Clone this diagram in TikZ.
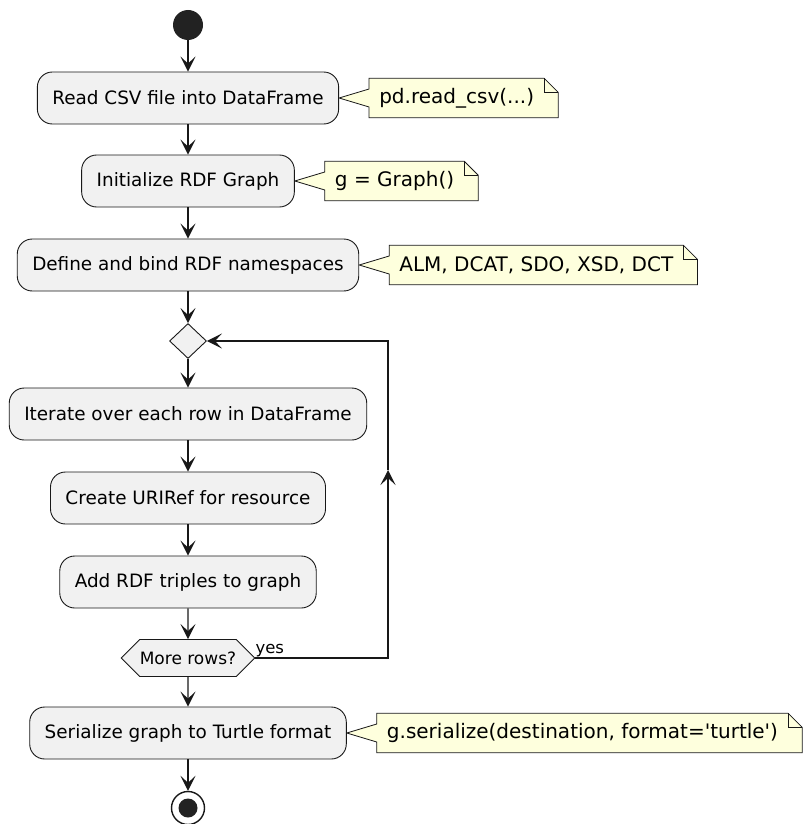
\documentclass[tikz,border=0pt]{standalone}
\usepackage{fontspec}
\setmainfont{DejaVu Sans}[Ligatures=TeXOff]
\usetikzlibrary{arrows.meta,positioning,shapes.geometric,shapes.symbols,backgrounds}

\definecolor{actfill}{HTML}{F1F1F1}
\definecolor{notefill}{HTML}{FEFFDD}
\definecolor{umlline}{HTML}{181818}
\definecolor{startfill}{HTML}{222222}

% note outline with dog ear and wedge pointing at its action
\newcommand\memoshape[2]{%
  \begin{pgfonlayer}{background}
    \filldraw[fill=notefill, draw=umlline, line width=0.8pt]
      (#1.north west) -- (#1.north east) -- ([xshift=14pt,yshift=-14pt]#1.north east)
      -- ([xshift=14pt]#1.south east) -- (#1.south west) -- ([yshift=-9pt]#1.west)
      -- (#2.east |- #1.west) -- ([yshift=9pt]#1.west) -- cycle;
    \draw[umlline, line width=0.8pt] (#1.north east) -- ([yshift=-14pt]#1.north east)
      -- ([xshift=14pt,yshift=-14pt]#1.north east);
  \end{pgfonlayer}}

\begin{document}
\begin{tikzpicture}[x=1pt, y=-1pt,
    every node/.style={font=\fontsize{18.4}{22}\selectfont},
    action/.style={draw=umlline, line width=0.9pt, fill=actfill,
      rounded corners=15pt, minimum height=52pt, inner xsep=15pt},
    memo/.style={minimum height=39pt, inner xsep=10pt, inner ysep=0pt,
      font=\fontsize{20}{24}\selectfont},
    flow/.style={-{Stealth[length=15pt,width=15pt,inset=7pt]},
      line width=1.4pt, draw=umlline},
    node distance=30pt]
  \useasboundingbox (0,0) rectangle (803,824);

  \node[circle, fill=startfill, minimum size=30pt, inner sep=0pt] (start) at (188,25) {};
  \node[action] (read) at (188,98) {Read CSV file into DataFrame};
  \node[action] (init) at (188,181) {Initialize RDF Graph};
  \node[action] (bind) at (188,265) {Define and bind RDF namespaces};
  \node[diamond, draw=umlline, line width=0.9pt, fill=actfill, minimum width=37pt,
    minimum height=35pt, inner sep=0pt] (merge) at (188,341) {};
  \node[action] (iter) at (188,414) {Iterate over each row in DataFrame};
  \node[action] (uri) at (188,498) {Create URIRef for resource};
  \node[action] (triples) at (188,582) {Add RDF triples to graph};
  \node[signal, signal to=west and east, signal pointer angle=90, draw=umlline,
    line width=0.9pt, fill=actfill, minimum height=37pt, inner xsep=0pt,
    font=\fontsize{17}{20}\selectfont] (more) at (188,658) {More rows?};
  \node[action] (serial) at (188,733) {Serialize graph to Turtle format};
  \node[circle, draw=umlline, line width=1.4pt, fill=white, minimum size=33pt,
    inner sep=0pt] (stop) at (188,808) {};
  \node[circle, fill=startfill, minimum size=19pt, inner sep=0pt] (stopdot) at (stop) {};

  % notes
  \node[memo, right=of read] (readnote) {pd.read\_csv(...)};
  \node[memo, right=of init] (initnote) {g = Graph()};
  \node[memo, right=of bind] (bindnote) {ALM, DCAT, SDO, XSD, DCT};
  \node[memo, right=of serial] (serialnote) {g.serialize(destination, format='turtle')};
  \memoshape{readnote}{read}
  \memoshape{initnote}{init}
  \memoshape{bindnote}{bind}
  \memoshape{serialnote}{serial}

  % main flow
  \draw[flow] (start) -- (read);
  \draw[flow] (read) -- (init);
  \draw[flow] (init) -- (bind);
  \draw[flow] (bind) -- (merge);
  \draw[flow] (merge) -- (iter);
  \draw[flow] (iter) -- (uri);
  \draw[flow] (uri) -- (triples);
  \draw[flow] (triples) -- (more);
  \draw[flow] (more) -- (serial);
  \draw[flow] (serial) -- (stop);

  % loop back
  \coordinate (loopbot) at (388,658);
  \coordinate (loopmid) at (388,470);
  \coordinate (looptop) at (388,341);
  \draw[flow] (more.east) -- (loopbot) -- (loopmid);
  \draw[flow] (loopmid) -- (looptop) -- (merge.east);
  \node[anchor=south west, inner sep=1pt, font=\fontsize{16.5}{20}\selectfont]
    (yes) at ([xshift=-1pt]more.east) {yes};
\end{tikzpicture}
\end{document}
